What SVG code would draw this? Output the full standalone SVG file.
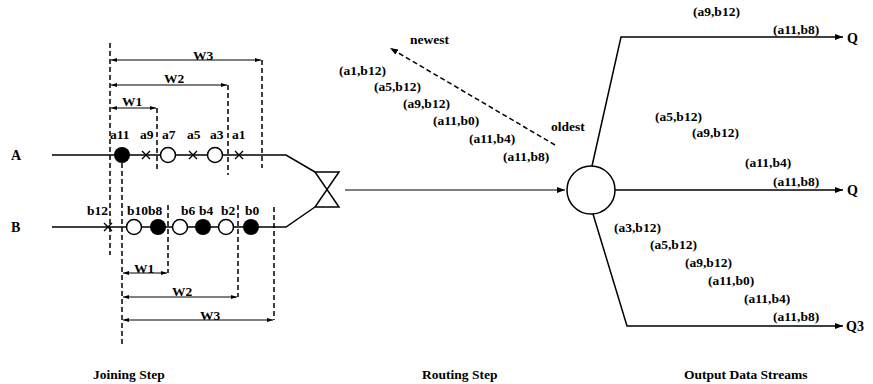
<svg xmlns="http://www.w3.org/2000/svg" width="873" height="384" viewBox="0 0 873 384">
<defs>
<marker id="arr" viewBox="0 0 8 6" refX="8" refY="3" markerWidth="8" markerHeight="6" markerUnits="userSpaceOnUse" orient="auto-start-reverse">
<path d="M0,0 L8,3 L0,6 z" fill="#000"/>
</marker>
<marker id="sarr" viewBox="0 0 6 4" refX="6" refY="2" markerWidth="6" markerHeight="4" markerUnits="userSpaceOnUse" orient="auto-start-reverse">
<path d="M0,0 L6,2 L0,4 z" fill="#000"/>
</marker>
</defs>
<style>
text{font-family:"Liberation Serif","Times New Roman",serif;font-size:13.5px;font-weight:bold;fill:#000}
.big{font-size:14px}
.ln{stroke:#000;stroke-width:1.5;fill:none}
.thin{stroke:#000;stroke-width:1.2;fill:none}
.dash{stroke:#000;stroke-width:1.5;stroke-dasharray:5,3;fill:none}
.dim{stroke:#000;stroke-width:1.2;fill:none;marker-start:url(#sarr);marker-end:url(#sarr)}
.fill{fill:#000}
.open{fill:#fff;stroke:#000;stroke-width:1.5}
.x{stroke:#000;stroke-width:1.3}
</style>
<rect width="873" height="384" fill="#fff"/>

<g id="connectors">
<path class="ln" d="M52,155 L286,155 L315,172"/>
<path class="ln" d="M52,227 L286,227 L315,207"/>
<path class="thin" d="M345,190 L565,190" marker-end="url(#arr)"/>
<path class="ln" d="M592,166 L621,37 L843,37" marker-end="url(#arr)"/>
<path class="ln" d="M615,190 L843,190" marker-end="url(#arr)"/>
<path class="ln" d="M593,214 L627,326 L843,326" marker-end="url(#arr)"/>
<path class="dash" d="M555,145 L390,48" marker-end="url(#arr)"/>
</g>

<g id="stream-A">
<text class="big" x="11" y="160">A</text>
<circle class="fill" cx="122" cy="155" r="8"/>
<path class="x" d="M142,151 L150,159 M142,159 L150,151"/>
<circle class="open" cx="168" cy="155" r="7.5"/>
<path class="x" d="M189,151 L197,159 M189,159 L197,151"/>
<circle class="open" cx="215" cy="155" r="7.5"/>
<path class="x" d="M235,151 L243,159 M235,159 L243,151"/>
<text x="110" y="139">a11</text>
<text x="140" y="139">a9</text>
<text x="162" y="139">a7</text>
<text x="187" y="139">a5</text>
<text x="210" y="139">a3</text>
<text x="232" y="139">a1</text>
</g>

<g id="stream-B">
<text class="big" x="11" y="232">B</text>
<path class="x" d="M104,223 L112,231 M104,231 L112,223"/>
<circle class="open" cx="134" cy="227" r="7.5"/>
<circle class="fill" cx="158" cy="227" r="8"/>
<circle class="open" cx="180" cy="227" r="7.5"/>
<circle class="fill" cx="203" cy="227" r="8"/>
<circle class="open" cx="226" cy="227" r="7.5"/>
<circle class="fill" cx="251" cy="227" r="8"/>
<text x="87" y="215">b12</text>
<text x="127" y="215">b10</text>
<text x="148" y="215">b8</text>
<text x="181" y="215">b6</text>
<text x="199" y="215">b4</text>
<text x="221" y="215">b2</text>
<text x="245" y="215">b0</text>
</g>

<g id="windows">
<path class="dash" d="M110,43 L110,255"/>
<path class="dash" d="M122,163 L122,347"/>
<path class="dash" d="M157,108 L157,170"/>
<path class="dash" d="M228,85 L228,175"/>
<path class="dash" d="M262,60 L262,168"/>
<path class="dash" d="M168,205 L168,273"/>
<path class="dash" d="M238,205 L238,297"/>
<path class="dash" d="M274,207 L274,320"/>
<path class="dim" d="M111,60 L261,60"/>
<path class="dim" d="M111,85 L227,85"/>
<path class="dim" d="M111,108 L156,108"/>
<path class="dim" d="M123,273 L167,273"/>
<path class="dim" d="M123,297 L237,297"/>
<path class="dim" d="M123,320 L273,320"/>
<text x="193" y="60">W3</text>
<text x="164" y="83">W2</text>
<text x="122" y="106">W1</text>
<text x="134" y="273">W1</text>
<text x="172" y="296">W2</text>
<text x="200" y="320">W3</text>
</g>

<g id="join-node">
<path class="ln" d="M315,172 L339,172 L315,207 L339,207 Z"/>
</g>

<g id="router-node">
<circle cx="591" cy="190" r="24" fill="#fff" stroke="#000" stroke-width="1.5"/>
</g>

<g id="routing-queue">
<text x="410" y="44">newest</text>
<text x="551" y="131">oldest</text>
<text x="339" y="75">(a1,b12)</text>
<text x="374" y="91">(a5,b12)</text>
<text x="403" y="108">(a9,b12)</text>
<text x="433" y="125">(a11,b0)</text>
<text x="469" y="143">(a11,b4)</text>
<text x="503" y="161">(a11,b8)</text>
</g>

<g id="output-Q1">
<text x="693" y="16">(a9,b12)</text>
<text x="773" y="34">(a11,b8)</text>
<text class="big" x="847" y="43">Q</text>
</g>

<g id="output-Q2">
<text x="655" y="121">(a5,b12)</text>
<text x="692" y="137">(a9,b12)</text>
<text x="745" y="167">(a11,b4)</text>
<text x="773" y="186">(a11,b8)</text>
<text class="big" x="847" y="195">Q</text>
</g>

<g id="output-Q3">
<text x="614" y="232">(a3,b12)</text>
<text x="650" y="249">(a5,b12)</text>
<text x="685" y="267">(a9,b12)</text>
<text x="708" y="285">(a11,b0)</text>
<text x="744" y="303">(a11,b4)</text>
<text x="773" y="321">(a11,b8)</text>
<text class="big" x="846" y="331">Q3</text>
</g>

<g id="captions">
<text x="93" y="379">Joining Step</text>
<text x="422" y="379">Routing Step</text>
<text x="684" y="379">Output Data Streams</text>
</g>
</svg>
